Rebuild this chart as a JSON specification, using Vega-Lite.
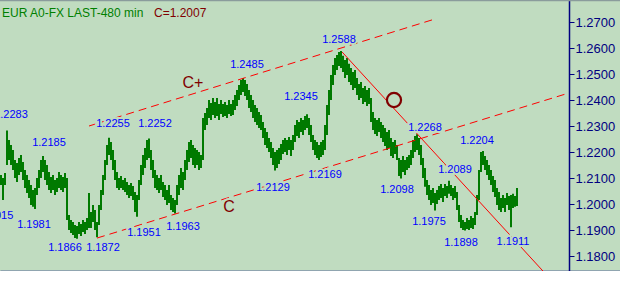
{
"$schema":"https://vega.github.io/schema/vega-lite/v6.json",
"width":620,"height":271,
"autosize":{"type":"none"},
"padding":0,
"background":"#c0dcc0",
"config":{"view":{"stroke":null},"font":"Liberation Sans"},
"datasets":{
"bars":[
{"t":0,"p":1.2112,"l":1.2073},{"t":1,"p":1.2100,"l":1.2015},{"t":2,"p":1.2119,"l":1.2073},{"t":3,"p":1.2283,"l":1.2150},{"t":4,"p":1.2246,"l":1.2169},{"t":5,"p":1.2227,"l":1.2150},{"t":6,"p":1.2208,"l":1.2131},{"t":7,"p":1.2169,"l":1.2100},{"t":8,"p":1.2158,"l":1.2085},{"t":9,"p":1.2177,"l":1.2112},
{"t":10,"p":1.2188,"l":1.2123},{"t":11,"p":1.2162,"l":1.2092},{"t":12,"p":1.2131,"l":1.2062},{"t":13,"p":1.2112,"l":1.2042},{"t":14,"p":1.2092,"l":1.2023},{"t":15,"p":1.2073,"l":1.1996},{"t":16,"p":1.2054,"l":1.1989},{"t":17,"p":1.2062,"l":1.1981},{"t":18,"p":1.2100,"l":1.2035},{"t":19,"p":1.2131,"l":1.2062},
{"t":20,"p":1.2169,"l":1.2100},{"t":21,"p":1.2185,"l":1.2123},{"t":22,"p":1.2169,"l":1.2092},{"t":23,"p":1.2150,"l":1.2073},{"t":24,"p":1.2123,"l":1.2054},{"t":25,"p":1.2104,"l":1.2042},{"t":26,"p":1.2112,"l":1.2054},{"t":27,"p":1.2092,"l":1.2035},{"t":28,"p":1.2100,"l":1.2046},{"t":29,"p":1.2123,"l":1.2062},
{"t":30,"p":1.2112,"l":1.2054},{"t":31,"p":1.2104,"l":1.2046},{"t":32,"p":1.2119,"l":1.2062},{"t":33,"p":1.2100,"l":1.1938},{"t":34,"p":1.1958,"l":1.1900},{"t":35,"p":1.1938,"l":1.1888},{"t":36,"p":1.1931,"l":1.1881},{"t":37,"p":1.1919,"l":1.1869},{"t":38,"p":1.1915,"l":1.1866},{"t":39,"p":1.1931,"l":1.1885},
{"t":40,"p":1.1923,"l":1.1877},{"t":41,"p":1.1938,"l":1.1892},{"t":42,"p":1.1931,"l":1.1885},{"t":43,"p":1.1946,"l":1.1900},{"t":44,"p":1.2042,"l":1.1908},{"t":45,"p":1.1969,"l":1.1908},{"t":46,"p":1.1996,"l":1.1931},{"t":47,"p":1.1977,"l":1.1900},{"t":48,"p":1.1931,"l":1.1872},{"t":49,"p":1.1996,"l":1.1919},
{"t":50,"p":1.2054,"l":1.1977},{"t":51,"p":1.2112,"l":1.2035},{"t":52,"p":1.2169,"l":1.2092},{"t":53,"p":1.2227,"l":1.2150},{"t":54,"p":1.2255,"l":1.2188},{"t":55,"p":1.2238,"l":1.2169},{"t":56,"p":1.2208,"l":1.2131},{"t":57,"p":1.2169,"l":1.2092},{"t":58,"p":1.2123,"l":1.2062},{"t":59,"p":1.2100,"l":1.2054},
{"t":60,"p":1.2108,"l":1.2062},{"t":61,"p":1.2092,"l":1.2054},{"t":62,"p":1.2100,"l":1.2046},{"t":63,"p":1.2085,"l":1.2035},{"t":64,"p":1.2073,"l":1.2023},{"t":65,"p":1.2081,"l":1.2031},{"t":66,"p":1.2069,"l":1.2015},{"t":67,"p":1.2046,"l":1.1969},{"t":68,"p":1.2035,"l":1.1951},{"t":69,"p":1.2092,"l":1.2015},
{"t":70,"p":1.2150,"l":1.2073},{"t":71,"p":1.2188,"l":1.2112},{"t":72,"p":1.2215,"l":1.2138},{"t":73,"p":1.2246,"l":1.2169},{"t":74,"p":1.2252,"l":1.2177},{"t":75,"p":1.2208,"l":1.2131},{"t":76,"p":1.2169,"l":1.2100},{"t":77,"p":1.2131,"l":1.2062},{"t":78,"p":1.2112,"l":1.2054},{"t":79,"p":1.2100,"l":1.2042},
{"t":80,"p":1.2112,"l":1.2054},{"t":81,"p":1.2085,"l":1.2027},{"t":82,"p":1.2073,"l":1.2015},{"t":83,"p":1.2054,"l":1.1996},{"t":84,"p":1.2073,"l":1.2004},{"t":85,"p":1.2035,"l":1.1977},{"t":86,"p":1.2023,"l":1.1969},{"t":87,"p":1.2015,"l":1.1963},{"t":88,"p":1.2073,"l":1.1996},{"t":89,"p":1.2112,"l":1.2035},
{"t":90,"p":1.2138,"l":1.2062},{"t":91,"p":1.2123,"l":1.2054},{"t":92,"p":1.2169,"l":1.2092},{"t":93,"p":1.2208,"l":1.2131},{"t":94,"p":1.2238,"l":1.2162},{"t":95,"p":1.2246,"l":1.2177},{"t":96,"p":1.2227,"l":1.2150},{"t":97,"p":1.2215,"l":1.2138},{"t":98,"p":1.2208,"l":1.2150},{"t":99,"p":1.2200,"l":1.2131},
{"t":100,"p":1.2188,"l":1.2138},{"t":101,"p":1.2331,"l":1.2169},{"t":102,"p":1.2350,"l":1.2285},{"t":103,"p":1.2369,"l":1.2304},{"t":104,"p":1.2400,"l":1.2331},{"t":105,"p":1.2388,"l":1.2323},{"t":106,"p":1.2408,"l":1.2342},{"t":107,"p":1.2392,"l":1.2331},{"t":108,"p":1.2408,"l":1.2338},{"t":109,"p":1.2385,"l":1.2323},
{"t":110,"p":1.2400,"l":1.2346},{"t":111,"p":1.2385,"l":1.2335},{"t":112,"p":1.2392,"l":1.2338},{"t":113,"p":1.2381,"l":1.2331},{"t":114,"p":1.2400,"l":1.2346},{"t":115,"p":1.2385,"l":1.2338},{"t":116,"p":1.2400,"l":1.2342},{"t":117,"p":1.2419,"l":1.2362},{"t":118,"p":1.2438,"l":1.2377},{"t":119,"p":1.2458,"l":1.2400},
{"t":120,"p":1.2477,"l":1.2419},{"t":121,"p":1.2485,"l":1.2431},{"t":122,"p":1.2477,"l":1.2415},{"t":123,"p":1.2462,"l":1.2400},{"t":124,"p":1.2438,"l":1.2369},{"t":125,"p":1.2419,"l":1.2354},{"t":126,"p":1.2400,"l":1.2331},{"t":127,"p":1.2381,"l":1.2315},{"t":128,"p":1.2369,"l":1.2304},{"t":129,"p":1.2354,"l":1.2292},
{"t":130,"p":1.2342,"l":1.2285},{"t":131,"p":1.2315,"l":1.2254},{"t":132,"p":1.2292,"l":1.2227},{"t":133,"p":1.2277,"l":1.2215},{"t":134,"p":1.2254,"l":1.2200},{"t":135,"p":1.2238,"l":1.2177},{"t":136,"p":1.2215,"l":1.2150},{"t":137,"p":1.2200,"l":1.2129},{"t":138,"p":1.2208,"l":1.2138},{"t":139,"p":1.2215,"l":1.2154},
{"t":140,"p":1.2231,"l":1.2169},{"t":141,"p":1.2246,"l":1.2192},{"t":142,"p":1.2254,"l":1.2200},{"t":143,"p":1.2246,"l":1.2188},{"t":144,"p":1.2258,"l":1.2208},{"t":145,"p":1.2246,"l":1.2185},{"t":146,"p":1.2265,"l":1.2208},{"t":147,"p":1.2304,"l":1.2238},{"t":148,"p":1.2323,"l":1.2262},{"t":149,"p":1.2315,"l":1.2254},
{"t":150,"p":1.2331,"l":1.2277},{"t":151,"p":1.2323,"l":1.2265},{"t":152,"p":1.2338,"l":1.2285},{"t":153,"p":1.2345,"l":1.2292},{"t":154,"p":1.2331,"l":1.2265},{"t":155,"p":1.2304,"l":1.2238},{"t":156,"p":1.2265,"l":1.2208},{"t":157,"p":1.2246,"l":1.2188},{"t":158,"p":1.2238,"l":1.2177},{"t":159,"p":1.2227,"l":1.2169},
{"t":160,"p":1.2238,"l":1.2181},{"t":161,"p":1.2246,"l":1.2188},{"t":162,"p":1.2304,"l":1.2208},{"t":163,"p":1.2381,"l":1.2265},{"t":164,"p":1.2438,"l":1.2342},{"t":165,"p":1.2496,"l":1.2400},{"t":166,"p":1.2535,"l":1.2458},{"t":167,"p":1.2562,"l":1.2496},{"t":168,"p":1.2573,"l":1.2515},{"t":169,"p":1.2585,"l":1.2531},
{"t":170,"p":1.2588,"l":1.2523},{"t":171,"p":1.2570,"l":1.2508},{"t":172,"p":1.2554,"l":1.2485},{"t":173,"p":1.2562,"l":1.2496},{"t":174,"p":1.2539,"l":1.2469},{"t":175,"p":1.2523,"l":1.2458},{"t":176,"p":1.2508,"l":1.2438},{"t":177,"p":1.2515,"l":1.2446},{"t":178,"p":1.2485,"l":1.2419},{"t":179,"p":1.2462,"l":1.2400},
{"t":180,"p":1.2469,"l":1.2408},{"t":181,"p":1.2446,"l":1.2385},{"t":182,"p":1.2454,"l":1.2392},{"t":183,"p":1.2438,"l":1.2377},{"t":184,"p":1.2446,"l":1.2385},{"t":185,"p":1.2408,"l":1.2315},{"t":186,"p":1.2354,"l":1.2285},{"t":187,"p":1.2331,"l":1.2269},{"t":188,"p":1.2323,"l":1.2262},{"t":189,"p":1.2331,"l":1.2277},
{"t":190,"p":1.2315,"l":1.2254},{"t":191,"p":1.2304,"l":1.2238},{"t":192,"p":1.2292,"l":1.2223},{"t":193,"p":1.2277,"l":1.2208},{"t":194,"p":1.2285,"l":1.2215},{"t":195,"p":1.2254,"l":1.2185},{"t":196,"p":1.2238,"l":1.2177},{"t":197,"p":1.2246,"l":1.2192},{"t":198,"p":1.2227,"l":1.2169},{"t":199,"p":1.2177,"l":1.2108},
{"t":200,"p":1.2169,"l":1.2098},{"t":201,"p":1.2185,"l":1.2123},{"t":202,"p":1.2169,"l":1.2112},{"t":203,"p":1.2181,"l":1.2131},{"t":204,"p":1.2188,"l":1.2138},{"t":205,"p":1.2208,"l":1.2150},{"t":206,"p":1.2246,"l":1.2177},{"t":207,"p":1.2262,"l":1.2200},{"t":208,"p":1.2268,"l":1.2208},{"t":209,"p":1.2254,"l":1.2188},
{"t":210,"p":1.2227,"l":1.2150},{"t":211,"p":1.2177,"l":1.2100},{"t":212,"p":1.2138,"l":1.2066},{"t":213,"p":1.2092,"l":1.2035},{"t":214,"p":1.2073,"l":1.2015},{"t":215,"p":1.2054,"l":1.1996},{"t":216,"p":1.2062,"l":1.2004},{"t":217,"p":1.2042,"l":1.1975},{"t":218,"p":1.2054,"l":1.2000},{"t":219,"p":1.2069,"l":1.2015},
{"t":220,"p":1.2077,"l":1.2023},{"t":221,"p":1.2062,"l":1.2008},{"t":222,"p":1.2077,"l":1.2031},{"t":223,"p":1.2069,"l":1.2023},{"t":224,"p":1.2089,"l":1.2039},{"t":225,"p":1.2073,"l":1.2031},{"t":226,"p":1.2062,"l":1.2015},{"t":227,"p":1.2069,"l":1.2023},{"t":228,"p":1.2046,"l":1.1977},{"t":229,"p":1.1996,"l":1.1931},
{"t":230,"p":1.1958,"l":1.1908},{"t":231,"p":1.1938,"l":1.1900},{"t":232,"p":1.1931,"l":1.1898},{"t":233,"p":1.1946,"l":1.1904},{"t":234,"p":1.1938,"l":1.1900},{"t":235,"p":1.1954,"l":1.1908},{"t":236,"p":1.1946,"l":1.1904},{"t":237,"p":1.1969,"l":1.1919},{"t":238,"p":1.2035,"l":1.1958},{"t":239,"p":1.2131,"l":1.2015},
{"t":240,"p":1.2200,"l":1.2123},{"t":241,"p":1.2204,"l":1.2150},{"t":242,"p":1.2185,"l":1.2131},{"t":243,"p":1.2169,"l":1.2112},{"t":244,"p":1.2150,"l":1.2092},{"t":245,"p":1.2131,"l":1.2073},{"t":246,"p":1.2108,"l":1.2046},{"t":247,"p":1.2092,"l":1.2027},{"t":248,"p":1.2062,"l":1.1996},{"t":249,"p":1.2046,"l":1.1977},
{"t":250,"p":1.2023,"l":1.1969},{"t":251,"p":1.2035,"l":1.1985},{"t":252,"p":1.2023,"l":1.1969},{"t":253,"p":1.2042,"l":1.1996},{"t":254,"p":1.2031,"l":1.1977},{"t":255,"p":1.2035,"l":1.1911},{"t":256,"p":1.2039,"l":1.1985},{"t":257,"p":1.2031,"l":1.1989},{"t":258,"p":1.2062,"l":1.1992}
],
"lines":[
{"g":"up","t":44,"p":1.2300},{"g":"up","t":215.5,"p":1.2708},
{"g":"lo","t":48,"p":1.1869},{"g":"lo","t":284,"p":1.2427},
{"g":"dn","t":170.5,"p":1.2585},{"g":"dn","t":271,"p":1.1742}
],
"frame":[{"t":-0.5,"p":1.2784},{"t":309.5,"p":1.2784}],
"labels":[
{"t":5,"p":1.2342,"s":"1.2283"},{"t":24,"p":1.2235,"s":"1.2185"},{"t":-2.25,"p":1.1954,"s":"1.2015"},{"t":16.5,"p":1.1919,"s":"1.1981"},
{"t":32,"p":1.1831,"s":"1.1866"},{"t":51,"p":1.1831,"s":"1.1872"},{"t":56,"p":1.2308,"s":"1.2255"},{"t":77,"p":1.2308,"s":"1.2252"},
{"t":71.5,"p":1.1888,"s":"1.1951"},{"t":91,"p":1.1912,"s":"1.1963"},{"t":123,"p":1.2535,"s":"1.2485"},{"t":150,"p":1.2412,"s":"1.2345"},
{"t":136,"p":1.2062,"s":"1.2129"},{"t":162,"p":1.2112,"s":"1.2169"},{"t":169,"p":1.2631,"s":"1.2588"},{"t":212,"p":1.2292,"s":"1.2268"},
{"t":238,"p":1.2242,"s":"1.2204"},{"t":198,"p":1.2054,"s":"1.2098"},{"t":227,"p":1.2131,"s":"1.2089"},{"t":214,"p":1.1931,"s":"1.1975"},
{"t":230,"p":1.1850,"s":"1.1898"},{"t":256,"p":1.1854,"s":"1.1911"}
],
"marks":[{"t":96,"p":1.2465,"s":"C+"},{"t":114,"p":1.1988,"s":"C"}],
"head":[{"t":0.5,"p":1.2719,"s":"EUR A0-FX LAST-480 min","c":"#008000"},{"t":76.5,"p":1.2719,"s":"C=1.2007","c":"#800000"}]
},
"encoding":{
"x":{"field":"t","type":"quantitative","scale":{"domain":[-0.5,309.5],"nice":false,"zero":false},
"axis":{"values":[1,4,7,10,13,16,19,22,25,28,31,34,37,40,43,46,49,52,55,58,61,64,67,70,73,76,79,82,85,88,91,94,97,100,103,106,109,112,115,118,121,124,127,130,133,136,139,142,145,148,151,154,157,160,163,166,169,172,175,178,181,184,187,190,193,196,199,202,205,208,211,214,217,220,223,226,229,232,235,238,241,244,247,250,253,256,259,262,265,268,271,274,277,280],
"labels":false,"title":null,"grid":false,"domainColor":"#000080","tickColor":"#000080","tickSize":6,"domainWidth":1.5,"tickWidth":1}},
"y":{"field":"p","type":"quantitative","scale":{"domain":[1.174231,1.278462],"nice":false,"zero":false},
"axis":{"orient":"right","offset":-51,"values":[1.18,1.19,1.2,1.21,1.22,1.23,1.24,1.25,1.26,1.27],"format":".4f","title":null,"grid":false,
"domainColor":"#000080","tickColor":"#000080","labelColor":"#000080","tickSize":5,"labelPadding":1,"labelFontSize":13,"labelFont":"Liberation Sans","domainWidth":1.5,"tickWidth":1}}
},
"layer":[
{"data":{"name":"frame"},"mark":{"type":"line","color":"#8a9c9c","strokeWidth":2},"encoding":{}},
{"data":{"name":"bars"},"mark":{"type":"rule","color":"#007a00","strokeWidth":2},"encoding":{"y2":{"field":"l"}}},
{"data":{"name":"lines"},"transform":[{"filter":"datum.g != 'dn'"}],"mark":{"type":"line","color":"#ff0000","strokeWidth":1,"strokeDash":[8,5],"clip":true},"encoding":{"detail":{"field":"g"}}},
{"data":{"name":"lines"},"transform":[{"filter":"datum.g == 'dn'"}],"mark":{"type":"line","color":"#ff0000","strokeWidth":1,"clip":true},"encoding":{"detail":{"field":"g"}}},
{"data":{"values":[{"t":196.5,"p":1.24}]},"mark":{"type":"point","shape":"circle","size":200,"filled":true,"fill":"#c0dcc0","stroke":"#800000","strokeWidth":2.2,"opacity":1}},
{"data":{"name":"labels"},"mark":{"type":"text","fontSize":11,"align":"center","baseline":"middle","color":"#c0dcc0","stroke":"#c0dcc0","strokeWidth":4},"encoding":{"text":{"field":"s"}}},
{"data":{"name":"labels"},"mark":{"type":"text","fontSize":11,"align":"center","baseline":"middle","color":"#0000ff"},"encoding":{"text":{"field":"s"}}},
{"data":{"name":"marks"},"mark":{"type":"text","fontSize":16,"align":"center","baseline":"middle","color":"#c0dcc0","stroke":"#c0dcc0","strokeWidth":4},"encoding":{"text":{"field":"s"}}},
{"data":{"name":"marks"},"mark":{"type":"text","fontSize":16,"align":"center","baseline":"middle","color":"#800000"},"encoding":{"text":{"field":"s"}}},
{"data":{"name":"head"},"mark":{"type":"text","fontSize":12,"align":"left","baseline":"alphabetic"},"encoding":{"text":{"field":"s"},"color":{"field":"c","type":"nominal","scale":null}}}
]
}
